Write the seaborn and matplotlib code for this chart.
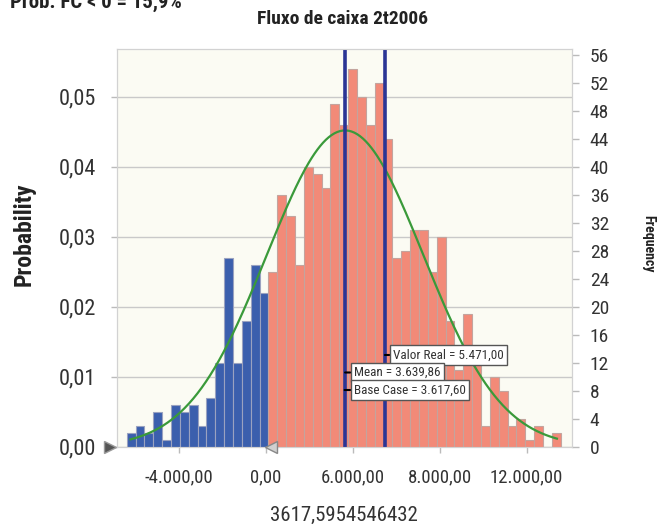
import numpy as np
import pandas as pd
import seaborn as sns
import matplotlib.pyplot as plt
from matplotlib.transforms import ScaledTranslation

# --- data ---
title = 'Fluxo de caixa 2t2006'
certainty_text = 'Prob. FC < 0 = 15,9%'
x_label = '3617,5954546432'

# frequency per bin (1000 trials), left to right
counts = [2, 3, 2, 5, 1, 6, 5, 6, 3, 7, 12, 27, 12, 18, 26, 22,
          25, 36, 33, 26, 40, 39, 37, 49, 46, 54, 50, 46, 52, 44,
          27, 28, 31, 31, 25, 30, 18, 11, 19, 12, 3, 10, 8, 3, 4, 1, 3, 0, 2]
n_neg = 16          # bins left of the certainty grabber (blue)
bin_start = -6410
bin_width = 407.6
n_trials = 1000

fit_mean = 3639.86
fit_sd = 3600

ref_names = ['Valor Real', 'Mean', 'Base Case']
ref_values = [5471.00, 3639.86, 3617.60]
line_values = [3639.86, 5471.00]
certainty_low = 0.0

xtick_vals = [-4000, 0, 4000, 8000, 12000]
xtick_labels = ['-4.000,00', '0,00', '6.000,00', '8.000,00', '12.000,00']
prob_ticks = [0.0, 0.01, 0.02, 0.03, 0.04, 0.05]
prob_labels = ['0,00', '0,01', '0,02', '0,03', '0,04', '0,05']
freq_ticks = list(range(0, 57, 4))


def fmt_br(v):
    return f'{v:,.2f}'.replace(',', 'X').replace('.', ',').replace('X', '.')


plt.rcParams['font.family'] = ['Liberation Sans Narrow', 'Roboto Condensed', 'Roboto', 'DejaVu Sans']

edges = bin_start + bin_width * np.arange(len(counts) + 1)
centers = edges[:-1] + bin_width / 2
df = pd.DataFrame({'x': centers, 'n': counts})

fig = plt.figure(figsize=(6.59, 5.25), dpi=100)
ax = fig.add_axes([0.177, 0.1491, 0.6905, 0.7576])
ax2 = ax.twinx()
ax2.set_zorder(ax.get_zorder() + 1)
ax2.patch.set_visible(False)
ax.set_facecolor('#fbfbf3')

blue = '#3b5fad'
salmon = '#f28a78'
sns.histplot(data=df.iloc[:n_neg], x='x', weights='n', bins=edges[:n_neg + 1].tolist(),
             color=blue, alpha=1, edgecolor='#9aa2c0', linewidth=0.8, ax=ax2)
sns.histplot(data=df.iloc[n_neg:], x='x', weights='n', bins=edges[n_neg:].tolist(),
             color=salmon, alpha=1, edgecolor='#c3a49e', linewidth=0.8, ax=ax2)

# fitted normal curve, in frequency units
cx = np.linspace(centers[0] - 30, centers[-1] + 30, 300)
cy = n_trials * bin_width * np.exp(-0.5 * ((cx - fit_mean) / fit_sd) ** 2) / (fit_sd * np.sqrt(2 * np.pi))
sns.lineplot(x=cx, y=cy, color='#3a9a3a', linewidth=1.6, ax=ax2)

for v in line_values:
    ax2.axvline(v, color='#2b3595', linewidth=2.6)

# reference labels
box_pos = {'Valor Real': (5860, 13.1), 'Mean': (4050, 10.6), 'Base Case': (4050, 8.1)}
for name, v in zip(ref_names, ref_values):
    tx, ty = box_pos[name]
    ax2.annotate(f'{name} = {fmt_br(v)}', xy=(v, ty), xytext=(tx, ty),
                 ha='left', va='center', fontsize=9.5, color='#333333',
                 bbox=dict(boxstyle='square,pad=0.25', fc='white', ec='#555555', lw=1),
                 arrowprops=dict(arrowstyle='-', color='black', lw=1.5, shrinkA=0, shrinkB=0))

ax.set_xlim(-6871, 14068)
ax.set_ylim(0, 0.0568)
ax2.set_ylim(0, 56.8)

ax.set_xticks(xtick_vals)
ax.set_xticklabels(xtick_labels)
ax.set_yticks(prob_ticks)
ax.set_yticklabels(prob_labels)
ax2.set_yticks(freq_ticks)
ax2.set_yticklabels([str(t) for t in freq_ticks])
ax.set_xlabel('')
ax2.set_ylabel('')

ax.yaxis.grid(True, color='#c9c9c9', linewidth=1)
ax.set_axisbelow(True)
ax.tick_params(axis='x', labelsize=13.5, labelcolor='#333333', color='#bbbbbb',
               length=4.5, width=1, pad=11)
ax.tick_params(axis='y', labelsize=16, labelcolor='#333333', color='#bbbbbb',
               length=4, width=1, pad=11)
ax2.tick_params(axis='y', labelsize=14, labelcolor='#333333', color='#bbbbbb',
                length=5, width=1, pad=8)
for a in (ax, ax2):
    for s in a.spines.values():
        s.set_color('#d2d2d2')

# certainty grabbers
ax.plot([-0.0147], [0], marker='>', markersize=9, color='#555555', mec='#999999',
        transform=ax.get_yaxis_transform(), clip_on=False, zorder=5)
shift = ax2.transData + ScaledTranslation(0.05, 0, fig.dpi_scale_trans)
ax2.plot([certainty_low], [0], marker='<', markersize=9, color='#d0d0d0', mec='#888888',
         transform=shift, clip_on=False, zorder=5)

fig.text(342.5 / 659, 1 - 18.5 / 525, title, ha='center', va='center',
         fontsize=14, fontweight='bold', color='#222222')
fig.text(10 / 659, 1 - 8 / 525, certainty_text, ha='left', va='baseline',
         fontsize=15, fontweight='bold', color='#222222')
fig.text(24 / 659, 1 - 234 / 525, 'Probability', rotation=90, ha='center', va='center',
         fontsize=17, fontweight='bold', color='#222222')
fig.text(648 / 659, 1 - 244 / 525, 'Frequency', rotation=270, ha='center', va='center',
         fontsize=10, fontweight='bold', color='#222222')
fig.text(343.5 / 659, 1 - 515 / 525, x_label, ha='center', va='center',
         fontsize=15, color='#333333')

fig.savefig('out.png', dpi=100)
